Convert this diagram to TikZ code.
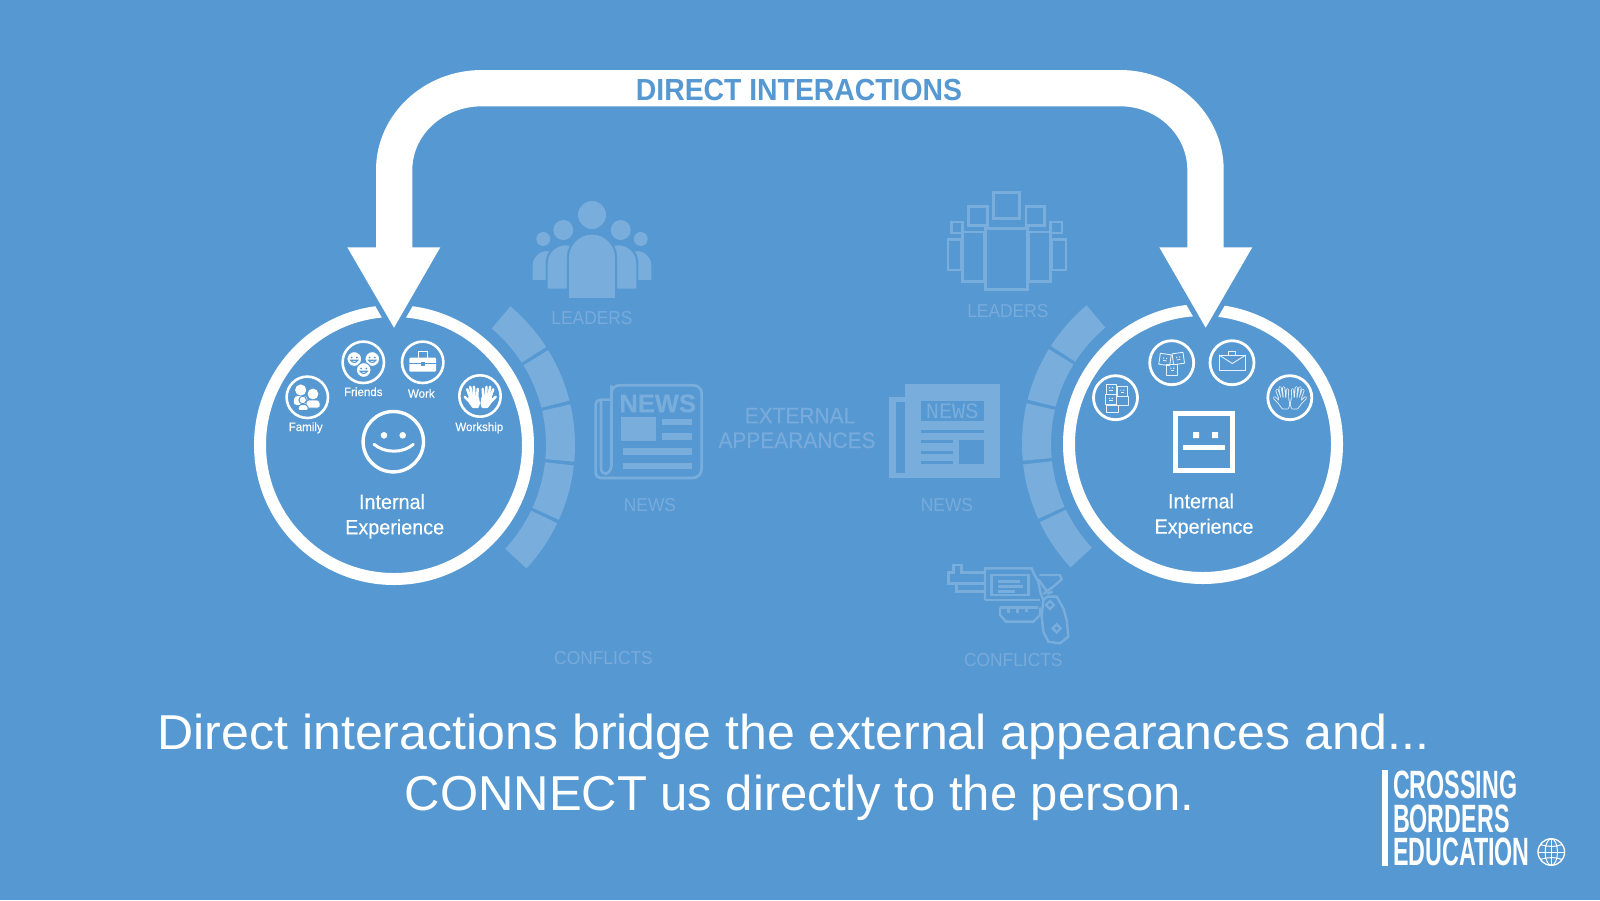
\documentclass[tikz,border=0pt]{standalone}
\usepackage{fontspec}
\setmainfont{Liberation Sans}
\newfontfamily\rb[FakeStretch=0.93]{Liberation Sans}
\newfontfamily\rbm[FakeStretch=0.955,FakeBold=0.25]{Liberation Sans}
\newfontfamily\rbs[FakeStretch=0.96,FakeBold=0.2]{Liberation Sans}
\newfontfamily\rbone[FakeStretch=1.022]{Liberation Sans}
\newfontfamily\rbtwo[FakeStretch=1.0]{Liberation Sans}
\newfontfamily\rbx[FakeStretch=0.93,FakeBold=0.3]{Liberation Sans}
\newfontfamily\nwf[FakeBold=0.6]{Liberation Sans Bold}
\newfontfamily\lgf[FakeStretch=0.59]{Liberation Sans}
\newfontfamily\mnf{Liberation Mono}
\definecolor{bg}{HTML}{5698D1}
\definecolor{faint}{HTML}{78ADDC}
\definecolor{fainttxt}{HTML}{78ABDB}
\tikzset{
  base/.style={anchor=base,inner sep=0pt,outer sep=0pt,align=center},
  flab/.style={base,text=fainttxt,font=\rb\fontsize{18.7}{20}\selectfont},
  extlab/.style={base,text=fainttxt,font=\rbx\fontsize{22.5}{24}\selectfont},
  bigone/.style={base,text=white,font=\rbone\fontsize{49}{52}\selectfont},
  bigtwo/.style={base,text=white,font=\rbtwo\fontsize{49}{52}\selectfont},
  inexp/.style={base,text=white,font=\rbm\fontsize{20.7}{22}\selectfont},
  small/.style={base,text=white,font=\rbs\fontsize{12}{13}\selectfont},
  logo/.style={anchor=base west,inner sep=0pt,outer sep=0pt,text=white,font=\lgf\bfseries\fontsize{39.5}{40}\selectfont},
  ring/.style={draw=white,line width=12pt},
  iconring/.style={draw=white,line width=2.6pt},
  iconringb/.style={draw=white,line width=2.8pt},
  fl/.style={draw=faint,line width=2.7pt,fill=none},
  fsq/.style={draw=faint,line width=3pt,fill=none},
  gunl/.style={draw=faint,line width=2.4pt,fill=none},
  thin/.style={draw=white!85!bg,line width=.9pt,fill=none,line join=round},
}
% segment of the faint arc, angles in the usual orientation
\newcommand{\segm}[2]{\fill[faint] (#1:181) arc[start angle=#1,end angle=#2,radius=181] -- (#2:152) arc[start angle=#2,end angle=#1,radius=152] -- cycle;}
% person body with semicircular top
\newcommand{\pbody}[4]{%
  \pgfmathsetmacro{\rr}{(#2-#1)/2}\pgfmathsetmacro{\xm}{(#1+#2)/2}%
  \pgfmathsetmacro{\kk}{\rr*0.5523}%
  \fill[faint,draw=bg,line width=2pt] (#1,#4) -- (#1,#3+\rr) .. controls (#1,#3+\rr-\kk) and (\xm-\kk,#3) .. (\xm,#3) .. controls (\xm+\kk,#3) and (#2,#3+\rr-\kk) .. (#2,#3+\rr) -- (#2,#4) -- cycle;}
% hand, thumb at the left unless mirrored
\newcommand{\handpath}{
  (-3,-1) -- (-5.5,-8)
  (-0.7,-1) -- (-2.5,-10.5)
  (1.8,-1) -- (1.2,-10.5)
  (4.5,-1) -- (5,-8.5)
  (-3,4.5) -- (-8,-0.5)
  (-3,0) -- (5,0) -- (6,6) -- (5,9.5) -- (0.5,9.5) -- (-2.8,5) -- cycle}
\newcommand{\hand}[3]{\begin{scope}[shift={(#1,#2)},xscale=#3]
  \draw[white,line width=2.5pt,line cap=round,line join=round,fill=white] \handpath;
  \end{scope}}
\newcommand{\handout}[3]{\begin{scope}[shift={(#1,#2)},xscale=#3]
  \draw[white!85!bg,line width=3.2pt,line cap=round,line join=round,fill=white!85!bg] \handpath;
  \draw[bg,line width=1.5pt,line cap=round,line join=round,fill=bg] \handpath;
  \end{scope}}
% little white smiling disc
\newcommand{\smallsmile}[2]{%
  \fill[white,draw=bg,line width=1pt] (#1,#2) circle (7.4);
  \fill[bg] (#1-2.6,#2-1.5) circle (1) (#1+2.6,#2-1.5) circle (1);
  \draw[bg,line width=1.1pt] (#1-3.6,#2+1.2) .. controls (#1-2,#2+4.2) and (#1+2,#2+4.2) .. (#1+3.6,#2+1.2) -- cycle;}
% little square face
\newcommand{\sqface}[5]{\begin{scope}[shift={(#1,#2)},rotate=#5]
  \draw[thin] (-#3,-#4) rectangle (#3,#4);
  \fill[white!85!bg] (-2,-1.8) rectangle (-0.9,-0.7) (0.9,-1.8) rectangle (2,-0.7);
  \draw[white!85!bg,line width=.8pt] (-1.8,1.2) -- (1.8,1.2);
  \end{scope}}
\begin{document}
\begin{tikzpicture}[x=1pt,y=-1pt,line join=miter]
\useasboundingbox (0,0) rectangle (1600,900);
\fill[bg] (0,0) rectangle (1600,900);

% ---- faint arcs
\begin{scope}[shift={(394,445)},y=1pt]
  \segm{50}{32.8}\segm{31.6}{14.2}\segm{13}{-5.3}\segm{-6.5}{-24.4}\segm{-25.6}{-43}
\end{scope}
\begin{scope}[shift={(1203,444)},y=1pt]
  \segm{130}{147.2}\segm{148.4}{165.8}\segm{167}{185.3}\segm{186.5}{204.4}\segm{205.6}{223}
\end{scope}

% ---- rings
\draw[ring] (394,445) circle (134);
\draw[ring] (1203,444) circle (134);

% ---- big arrow with halo round the heads
\draw[bg,line width=10.5pt,line join=miter] (347.3,247.3) -- (440.3,247.3) -- (394,327.7) -- cycle;
\draw[bg,line width=10.5pt,line join=miter] (1159.3,247.3) -- (1252.3,247.3) -- (1205.7,327.7) -- cycle;
\fill[white] (394,327.7) -- (347.3,247.3) -- (376,247.3) -- (376,170)
  .. controls (376,114.8) and (423.5,70) .. (482,70)
  -- (1120,70) .. controls (1177.3,70) and (1223.7,114.8) .. (1223.7,170)
  -- (1223.7,247.3) -- (1252.3,247.3) -- (1205.7,327.7) -- (1159.3,247.3) -- (1187.3,247.3) -- (1187.3,170)
  .. controls (1187.3,134.7) and (1157.2,106.3) .. (1120,106.3)
  -- (482,106.3) .. controls (443.5,106.3) and (412.3,134.7) .. (412.3,170)
  -- (412.3,247.3) -- (440.3,247.3) -- cycle;
\node[base,text=bg,font=\rb\bfseries\fontsize{30.5}{32}\selectfont] (direct) at (799,100) {DIRECT INTERACTIONS};

% ---- left leaders
\fill[faint] (592,215) circle (14);
\fill[faint] (563.3,230) circle (10) (620.7,230) circle (10);
\fill[faint] (543.3,239) circle (7) (640.7,239) circle (7);
\pbody{531.7}{562}{250}{281}
\pbody{622}{652.3}{250}{281}
\pbody{546.7}{584}{244.3}{289.5}
\pbody{600}{637.3}{244.3}{289.5}
\pbody{567.9}{616.1}{233.5}{299}
\node[flab] (leadL) at (592,324.3) {LEADERS};

% ---- right leaders
\draw[fsq] (993.9,192.5) rectangle (1019.6,218);
\draw[fsq,line width=2.8pt] (968.5,206.5) rectangle (987.2,225.3);
\draw[fsq,line width=2.8pt] (1026,206.5) rectangle (1044.7,225.3);
\draw[fsq,line width=2.2pt] (951.5,222.2) rectangle (962.5,233);
\draw[fsq,line width=2.2pt] (1050.4,222.2) rectangle (1061.8,233);
\draw[fsq,line width=2.2pt] (947.9,239.4) rectangle (961,270);
\draw[fsq,line width=2.2pt] (1052,239.4) rectangle (1066,270);
\draw[fsq,line width=2.8pt] (962.4,232) rectangle (984.3,281.3);
\draw[fsq,line width=2.8pt] (1028.9,232) rectangle (1050.6,281.3);
\draw[fsq] (985.8,228) rectangle (1027.4,289.3);
\node[flab] (leadR) at (1007.9,317.7) {LEADERS};

% ---- left news
\draw[fl,rounded corners=8pt] (611.4,440) -- (611.4,385.3) -- (701.6,385.3) [rounded corners=9pt] -- (701.6,478) -- (604,478);
\draw[fl,rounded corners=5pt] (611.4,399.6) -- (595.6,399.6) -- (595.6,478) -- (606,478);
\draw[fl] (601,399.6) -- (601,468) .. controls (601,476) and (610,476) .. (611.4,466) -- (611.4,385.3);
\node[base,text=faint,font=\nwf\fontsize{25.5}{26}\selectfont] (newsword) at (657.7,412.2) {NEWS};
\fill[faint] (620.7,417.3) rectangle (655.7,441);
\fill[faint] (662.1,418.7) rectangle (692.1,425.3);
\fill[faint] (662.1,433.3) rectangle (692.1,440);
\fill[faint] (622.5,448.3) rectangle (692.1,454.7);
\fill[faint] (622.5,463.3) rectangle (692.1,469.3);
\node[flab] (newsL) at (650,511) {NEWS};

% ---- right news
\fill[faint] (905,384) rectangle (999.6,478);
\fill[faint] (888.9,396.5) rectangle (905,478);
\fill[bg] (895.7,401.7) rectangle (905,472.7);
\fill[bg] (920.7,400.7) rectangle (983.6,421.3);
\node[base,text=faint,font=\mnf\fontsize{22}{22}\selectfont] (newsword2) at (952.2,418.8) {NEWS};
\fill[bg] (920.7,429.7) rectangle (983.6,433);
\fill[bg] (920.7,440) rectangle (952.9,443.3);
\fill[bg] (920.7,451) rectangle (952.9,454.3);
\fill[bg] (920.7,461) rectangle (952.9,464.3);
\fill[bg] (959.3,440) rectangle (983.6,464);
\node[flab] (newsR) at (947,511) {NEWS};

% ---- external appearances
\node[extlab] (ext1) at (800,423.3) {EXTERNAL};
\node[extlab] (ext2) at (797,448) {APPEARANCES};

% ---- conflicts
\node[flab] (confL) at (603.5,664) {CONFLICTS};
\node[flab] (confR) at (1013.3,666.7) {CONFLICTS};

% ---- gun (pixel revolver)
\begin{scope}[shift={(920,550)},x=.3333pt,y=-.3333pt]
  \draw[gunl] (195,68) -- (125,68) -- (125,45) -- (100,45) -- (100,68) -- (85,68) -- (85,100) -- (110,100) -- (110,125) -- (195,125);
  \draw[gunl] (85,100) -- (195,100);
  \draw[gunl] (195,150) -- (195,55) -- (335,55) -- (342,72) -- (355,95) -- (362,130) -- (370,150);
  \draw[gunl] (215,75) -- (325,75) -- (325,135) -- (215,135) -- cycle;
  \draw[gunl] (235,95) -- (300,95) (235,110) -- (310,110) (235,125) -- (285,125);
  \draw[gunl] (195,150) -- (360,150);
  \draw[gunl] (240,172) -- (355,172);
  \draw[gunl] (265,172) -- (265,190) (292,172) -- (292,188) (320,172) -- (320,186);
  \draw[gunl] (240,172) -- (240,195) -- (258,215) -- (340,215) -- (360,195) -- (360,172);
  \draw[gunl] (358,75) -- (420,75) -- (425,88) -- (400,110) -- (370,132);
  \draw[gunl] (355,88) -- (385,130) -- (398,125);
  \draw[gunl] (370,150) -- (382,140) -- (410,140) -- (430,175) -- (440,210) -- (445,260) -- (420,280) -- (385,275) -- (370,245) -- (365,200) -- cycle;
  \draw[gunl] (390,153) -- (402,165) -- (390,177) -- (378,165) -- cycle;
  \draw[gunl] (410,223) -- (422,235) -- (410,247) -- (398,235) -- cycle;
\end{scope}

% ---- left circle content
\draw[iconring] (363.3,362.3) circle (20.7);
\draw[iconring] (422.7,362.3) circle (20.7);
\draw[iconring] (307.3,397.3) circle (20.7);
\draw[iconring] (480,396) circle (20.7);
\smallsmile{354.3}{359}
\smallsmile{372.3}{359}
\smallsmile{363.7}{370}
% family
\fill[white] (300.7,390) circle (5.6) (313,394) circle (5.4);
\fill[white,rounded corners=3pt] (293.5,405) -- (294.5,396) -- (307,396) -- (308,405) -- cycle;
\fill[white,draw=bg,line width=.8pt,rounded corners=2.5pt] (305.5,408) -- (306.5,400) -- (319.5,400) -- (320.5,408) -- cycle;
\fill[white,draw=bg,line width=1pt] (302.7,400) circle (3.8);
\fill[white,draw=bg,line width=1pt,rounded corners=2pt] (297.8,410.5) -- (298.8,404.5) -- (307.5,404.5) -- (308.5,410.5) -- cycle;
% briefcase
\draw[white,line width=1.5pt] (418.5,358) -- (418.5,351.3) -- (427.3,351.3) -- (427.3,358);
\fill[white,rounded corners=1pt] (409.3,357.7) rectangle (436,371.7);
\draw[bg,line width=.9pt] (409.3,363.3) -- (436,363.3);
\fill[bg] (420.5,362) rectangle (425,365.5);
% hands
\hand{472.7}{397.3}{1}
\hand{487.7}{397.3}{-1}
% smiley
\draw[white,line width=3.4pt] (393.3,441.7) circle (30.2);
\fill[white] (384,435.3) circle (3.3) (402.7,435.3) circle (3.3);
\draw[white,line width=3pt,line cap=round] (374,444.3) .. controls (385,453.5) and (403,453.5) .. (413.3,444.3);
\node[inexp] (intL) at (392,509) {Internal};
\node[inexp] (expL) at (394.7,534.3) {Experience};
\node[small] (famL) at (305.7,431) {Family};
\node[small] (frL) at (363.3,396) {Friends};
\node[small] (wkL) at (421.3,397.7) {Work};
\node[small] (wsL) at (479.3,431) {Workship};

% ---- right circle content
\draw[iconringb] (1171.7,362.7) circle (22);
\draw[iconringb] (1232,362.7) circle (22);
\draw[iconringb] (1115.5,397.7) circle (22);
\draw[iconringb] (1289.8,397.7) circle (22);
\sqface{1165}{359.5}{5.5}{5.5}{-8}
\sqface{1178.3}{358.5}{5.5}{5.5}{8}
\sqface{1172.3}{369.5}{5.5}{5.5}{0}
\sqface{1111}{389}{5}{5}{0}
\sqface{1122.3}{391.3}{5}{4.7}{0}
\sqface{1110.8}{399.6}{5.8}{5.3}{0}
\draw[thin] (1116.7,396.7) rectangle (1128.3,405);
\draw[thin] (1106.7,405) rectangle (1118.3,412.3);
% envelope
\draw[thin] (1219,355) rectangle (1245.7,370);
\draw[thin] (1219,355) -- (1232.3,363.5) -- (1245.7,355);
\draw[thin] (1228.3,355) -- (1228.3,351) -- (1235.7,351) -- (1235.7,355);
% hands outline
\handout{1282.5}{398.3}{1}
\handout{1297.5}{398.3}{-1}
% square face
\draw[white,line width=5pt] (1175.2,413.5) rectangle (1232.5,470.8);
\fill[white] (1193,432) rectangle (1199,438) (1212,432) rectangle (1218,438);
\fill[white] (1183.3,445) rectangle (1224.7,449.5);
\node[inexp] (intR) at (1201,508.3) {Internal};
\node[inexp] (expR) at (1204,533.7) {Experience};

% ---- bottom text
\node[bigone] (line1) at (793.7,749) {Direct interactions bridge the external appearances and...};
\node[bigtwo] (line2) at (799.6,810.7) {CONNECT us directly to the person.};

% ---- logo
\fill[white] (1382.3,770) rectangle (1387.7,865.7);
\node[logo] (lg1) at (1393,798.8) {CROSSING};
\node[logo] (lg2) at (1393,832.3) {BORDERS};
\node[logo] (lg3) at (1393,865.7) {EDUCATION};
\draw[white,line width=1.3pt] (1551.3,852) circle (13.3);
\draw[white,line width=1pt] (1551.3,852) ellipse (6.2 and 13.3);
\draw[white,line width=1pt] (1551.3,838.7) -- (1551.3,865.3) (1538,852) -- (1564.6,852);
\draw[white,line width=1pt] (1540.5,844.5) .. controls (1547,847) and (1556,847) .. (1562,844.5);
\draw[white,line width=1pt] (1540.5,859.5) .. controls (1547,857) and (1556,857) .. (1562,859.5);
\end{tikzpicture}
\end{document}
